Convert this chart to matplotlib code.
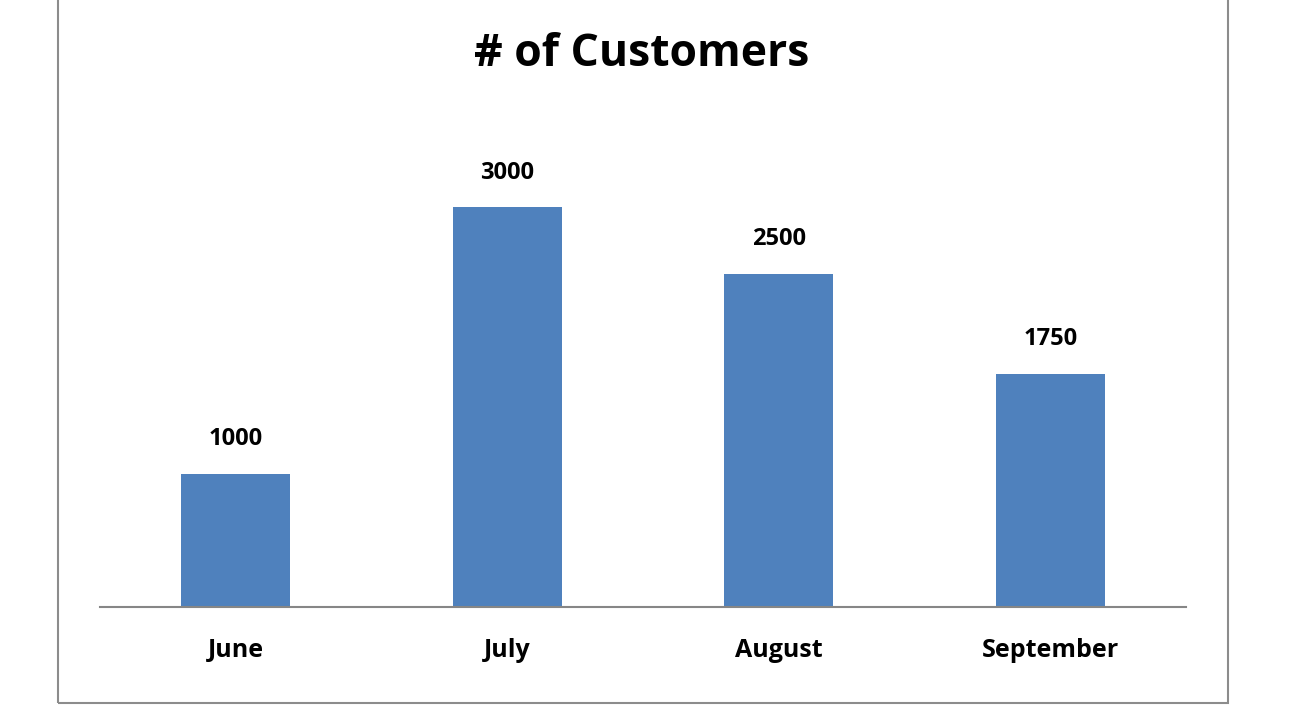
import matplotlib
matplotlib.use("Agg")
import matplotlib.pyplot as plt
from matplotlib.patches import Rectangle

months = ["June", "July", "August", "September"]
customers = [1000, 3000, 2500, 1750]

plt.rcParams['font.family'] = ['Open Sans', 'DejaVu Sans']
fig = plt.figure(figsize=(12.92, 7.10), dpi=100)
W, H = 1292, 710
# outer border
fig.patches.append(Rectangle((58/W, 7/H), (1228-58)/W, 1.2, transform=fig.transFigure,
                             fill=False, edgecolor='#8c8c8c', lw=1.5))
ax = fig.add_axes([100/W, (H-607)/H, 1086/W, 533/H])
x = range(len(months))
bars = ax.bar(x, customers, width=0.4, color='#4F81BD')
ax.set_xlim(-0.5, 3.5)
ax.set_ylim(0, 4000)
for xi, v in zip(x, customers):
    ax.text(xi, v + 170, str(v), ha='center', va='bottom', fontsize=17, fontweight='bold')
ax.set_xticks(list(x))
ax.set_xticklabels(months, fontsize=18, fontweight='bold')
ax.tick_params(axis='x', length=0, pad=22)
ax.set_yticks([])
for s in ['top', 'right', 'left']:
    ax.spines[s].set_visible(False)
ax.spines['bottom'].set_color('#868686')
ax.spines['bottom'].set_linewidth(1.5)
fig.text(642/W, 1 - 55/H, "# of Customers", ha='center', va='center', fontsize=32, fontweight='bold')
fig.savefig("out.png", dpi=100)
